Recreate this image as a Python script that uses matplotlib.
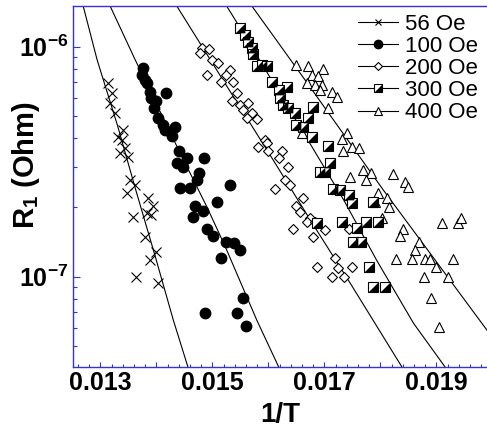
import numpy as np
import matplotlib
matplotlib.use("Agg")
import matplotlib.pyplot as plt
from matplotlib.lines import Line2D
from matplotlib.legend_handler import HandlerTuple
from matplotlib.ticker import MultipleLocator, LogLocator, FuncFormatter, NullFormatter

plt.rcParams["font.family"] = ["Liberation Sans", "DejaVu Sans"]
plt.rcParams["font.weight"] = "bold"
plt.rcParams["mathtext.fontset"] = "custom"
plt.rcParams["mathtext.rm"] = "Liberation Sans"
plt.rcParams["mathtext.bf"] = "Liberation Sans:bold"
plt.rcParams["mathtext.it"] = "Liberation Sans:italic"

# 1/T in units of 1e-3, R1 in units of 1e-7 Ohm
t56 = [13.14, 13.20, 13.17, 13.26, 13.41, 13.32, 13.38, 13.44, 13.35, 13.50, 13.53, 13.62,
       13.47, 13.85, 13.94, 13.83, 13.91, 13.58, 13.80, 13.99, 13.88, 13.63, 14.03]
r56 = [6.93, 6.27, 5.67, 5.13, 4.35, 4.06, 3.93, 3.62, 3.44, 3.32, 2.63, 2.50,
       2.31, 2.19, 2.02, 1.89, 1.85, 1.81, 1.49, 1.28, 1.18, 1.00, 0.936]

t100 = [13.76, 13.74, 13.80, 13.83, 13.88, 14.17, 13.91, 14.00, 13.96, 14.03, 14.12, 14.33,
        14.15, 14.27, 14.41, 14.54, 14.85, 14.36, 14.48, 14.76, 14.72, 15.31, 14.42, 14.59,
        15.08, 14.69, 14.83, 14.65, 14.91, 15.01, 15.25, 15.38, 15.49, 15.16, 15.54, 14.87,
        15.43, 15.60]
r100 = [8.06, 7.53, 7.17, 6.93, 6.37, 6.27, 5.97, 5.77, 5.40, 4.88, 4.57, 4.49,
        4.34, 4.09, 3.50, 3.27, 3.29, 3.11, 3.01, 2.82, 2.63, 2.49, 2.42, 2.42,
        2.10, 2.02, 1.92, 1.82, 1.61, 1.50, 1.41, 1.40, 1.31, 1.20, 0.806, 0.697,
        0.697, 0.610]

t200 = [14.81, 14.93, 14.78, 14.99, 15.10, 15.31, 15.25, 14.90, 15.16, 15.37, 15.43, 15.34,
        15.49, 15.64, 15.55, 15.70, 15.61, 15.79, 15.94, 15.97, 15.82, 16.00, 16.24, 16.18,
        16.34, 16.30, 16.12, 16.38, 16.62, 16.50, 16.56, 16.74, 16.68, 16.83, 17.01, 16.44,
        16.80, 17.43, 17.19, 16.86, 17.25, 17.49, 17.13, 17.34]
r200 = [9.84, 9.74, 9.36, 8.75, 8.47, 7.92, 7.53, 7.53, 7.04, 7.04, 6.27, 5.77,
        5.58, 5.67, 5.31, 5.13, 4.88, 4.83, 3.93, 3.80, 3.67, 3.50, 3.50, 3.27,
        3.01, 2.63, 2.40, 2.50, 2.19, 2.02, 1.90, 1.79, 1.72, 1.72, 1.60, 1.61,
        1.49, 1.61, 1.20, 1.10, 1.09, 1.10, 1.00, 0.994]

t300 = [15.49, 15.58, 15.64, 15.70, 15.73, 15.79, 15.88, 15.97, 16.06, 16.33, 16.18, 16.21,
        16.26, 16.35, 16.47, 16.80, 16.71, 16.50, 16.62, 16.77, 17.07, 17.10, 16.92, 17.01,
        17.16, 17.28, 17.43, 17.49, 16.86, 17.31, 17.58, 17.75, 17.96, 17.51, 17.66, 17.80,
        17.87, 18.08, 17.87]
r300 = [12.0, 11.24, 10.51, 9.84, 9.30, 8.19, 8.32, 8.19, 7.04, 6.70, 6.48, 5.97,
        5.58, 5.40, 5.13, 5.48, 4.88, 4.57, 4.49, 4.04, 3.70, 3.11, 2.86, 2.86,
        2.40, 2.38, 2.27, 2.08, 1.71, 1.72, 1.62, 1.72, 1.72, 1.41, 1.41, 1.105,
        0.905, 0.905, 2.10]

t400 = [16.50, 16.71, 16.98, 16.77, 16.89, 16.68, 16.83, 16.95, 16.92, 17.13, 17.22, 17.07,
        16.59, 17.40, 17.31, 17.49, 17.62, 17.33, 17.69, 17.83, 17.75, 18.23, 18.44, 18.50,
        17.46, 17.96, 18.11, 17.90, 18.16, 18.02, 18.41, 18.35, 18.68, 18.62, 18.28, 18.56,
        18.80, 18.88, 19.30, 18.99, 18.78, 19.21, 19.09, 19.39, 19.43, 18.91, 19.05]
r400 = [8.32, 8.19, 7.98, 7.53, 7.41, 6.93, 6.82, 6.82, 6.48, 6.37, 6.06, 5.40,
        4.20, 4.20, 3.97, 3.67, 3.62, 3.50, 2.91, 2.82, 2.63, 2.80, 2.59, 2.46,
        2.72, 2.31, 2.19, 2.12, 2.00, 1.79, 1.61, 1.50, 1.41, 1.30, 1.19, 1.19,
        1.19, 1.19, 1.19, 1.10, 0.994, 0.994, 1.71, 1.71, 1.79, 0.806, 0.603]

# fitted curves, one per field
fit56_t = [12.69, 12.94, 13.30, 13.63, 13.97, 14.30, 14.56]
fit56_r = [15.03, 8.75, 4.57, 2.38, 1.243, 0.648, 0.406]
fit100_t = [13.17, 13.62, 14.42, 14.90, 15.23, 15.79, 16.18]
fit100_r = [15.03, 8.75, 3.45, 2.01, 1.346, 0.648, 0.406]
fit200_t = [14.36, 15.26, 15.97, 16.78, 17.46, 18.38]
fit200_r = [15.03, 6.70, 3.56, 1.71, 0.936, 0.406]
fit300_t = [15.25, 15.46, 16.67, 17.34, 17.93, 18.59, 19.15]
fit300_r = [15.03, 12.43, 4.05, 2.16, 1.18, 0.627, 0.406]
fit400_t = [15.70, 16.65, 18.05, 19.90]
fit400_r = [15.03, 7.17, 2.38, 0.586]

labels = ["56 Oe", "100 Oe", "200 Oe", "300 Oe", "400 Oe"]

BLUE = "#3535c8"
half_sq = [(-1, -1), (1, -1), (1, 1), (-1, -1)]


def xs(v):
    return np.asarray(v) * 1e-3


def ys(v):
    return np.asarray(v) * 1e-7


fig = plt.figure(figsize=(4.87, 4.28), dpi=100)
ax = fig.add_axes([0.1493, 0.1432, 0.8507, 0.8428])

for ft, fr in [(fit56_t, fit56_r), (fit100_t, fit100_r), (fit200_t, fit200_r),
               (fit300_t, fit300_r), (fit400_t, fit400_r)]:
    ax.plot(xs(ft), ys(fr), color="k", lw=0.8, zorder=1)

ax.plot(xs(t56), ys(r56), ls="none", marker="x", ms=6.5, mec="k", mew=0.8, zorder=3)
ax.plot(xs(t100), ys(r100), ls="none", marker="o", ms=7.5, mfc="k", mec="k", zorder=3)
ax.plot(xs(t200), ys(r200), ls="none", marker="D", ms=4.8, mfc="white", mec="k", mew=0.8, zorder=3)
ax.plot(xs(t300), ys(r300), ls="none", marker="s", ms=7, mfc="white", mec="k", mew=0.8, zorder=4)
ax.plot(xs(t300), ys(r300), ls="none", marker=half_sq, ms=7, mfc="k", mec="k", mew=0, zorder=4)
ax.plot(xs(t400), ys(r400), ls="none", marker="^", ms=7, mfc="white", mec="k", mew=0.8, zorder=3)

ax.set_yscale("log")
ax.set_xlim(0.012504, 0.019902)
ax.set_ylim(4.06e-8, 1.50e-6)

ax.xaxis.set_major_locator(MultipleLocator(0.001))
ax.xaxis.set_minor_locator(MultipleLocator(0.0002))
ax.xaxis.set_major_formatter(FuncFormatter(
    lambda v, p: f"{v:.3f}" if round(v * 1000) % 2 == 1 else ""))
ax.set_yticks([1e-7, 1e-6])
ax.set_yticklabels([r"$\mathbf{10^{-7}}$", r"$\mathbf{10^{-6}}$"])
ax.yaxis.set_minor_locator(LogLocator(base=10, subs=np.arange(2, 10)))
ax.yaxis.set_minor_formatter(NullFormatter())

ax.tick_params(axis="both", which="both", direction="in", color=BLUE, width=0.8,
               top=False, right=False)
ax.tick_params(axis="y", which="major", length=5, pad=3, labelsize=18)
ax.tick_params(axis="y", which="minor", length=3)
ax.tick_params(axis="x", which="major", length=3.6, pad=3, labelsize=18)
ax.tick_params(axis="x", which="minor", length=2.2)

for side in ["left", "bottom", "top"]:
    ax.spines[side].set_color(BLUE)
    ax.spines[side].set_linewidth(1.0)
ax.spines["right"].set_visible(False)

ax.set_xlabel("1/T", fontsize=20, fontweight="bold")
ax.xaxis.set_label_coords(0.5, -0.097)
ax.set_ylabel(r"$\mathbf{R_1}$ (Ohm)", fontsize=21, fontweight="bold")
ax.yaxis.set_label_coords(-0.075, 0.559)

handles = [
    Line2D([], [], color="k", lw=0.8, marker="x", ms=5, mew=0.8),
    Line2D([], [], color="k", lw=0.8, marker="o", ms=6, mfc="k"),
    Line2D([], [], color="k", lw=0.8, marker="D", ms=4, mfc="white", mew=0.8),
    (Line2D([], [], color="k", lw=0.8, marker="s", ms=6, mfc="white", mew=0.8),
     Line2D([], [], ls="none", marker=half_sq, ms=6, mfc="k", mec="k", mew=0)),
    Line2D([], [], color="k", lw=0.8, marker="^", ms=6, mfc="white", mew=0.8),
]
ax.legend(handles, labels, handler_map={tuple: HandlerTuple(ndivide=1)},
          loc="upper right", bbox_to_anchor=(0.978, 0.978), frameon=False,
          prop={"weight": "normal", "size": 16}, handlelength=1.8, handletextpad=0.3,
          labelspacing=0.05, borderpad=0, borderaxespad=0, numpoints=1)

fig.savefig("out.png", dpi=100)
